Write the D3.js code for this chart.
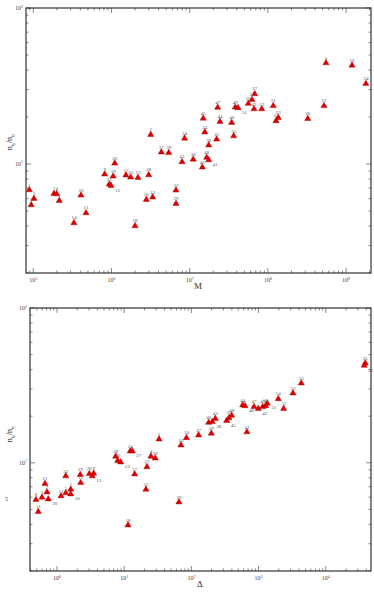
<!DOCTYPE html>
<html>
<head>
<meta charset="utf-8">
<script src="https://cdn.jsdelivr.net/npm/d3@7"></script>
<style>
  body { margin: 0; background: #fff; }
  svg { display: block; font-family: "Liberation Serif", "DejaVu Serif", serif; }
</style>
</head>
<body>
<svg id="chart" width="374" height="597"></svg>
<script>
// top panel : ratio vs M
const topIds = [1, 5, 3, 7, 4, 8, 14, 10, 11, 9, 21, 15, 19, 20, 17, 23, 18, 13, 30, 28,
  2, 12, 37, 39, 32, 29, 43, 34, 36, 40, 24, 45, 38, 48, 41, 25, 47, 44, 46, 35,
  49, 51, 50, 52, 27, 42, 53, 31, 55, 33, 26, 22, 6, 16, 54];
const topM = [8.9e4, 9.4e4, 1.02e5, 1.84e5, 1.99e5, 2.15e5, 3.31e5, 4.07e5, 4.72e5, 8.18e5,
  9.37e5, 9.86e5, 1.05e6, 1.10e6, 1.53e6, 1.76e6, 2.0e6, 2.18e6, 2.79e6, 2.99e6,
  3.17e6, 3.36e6, 4.34e6, 5.39e6, 6.68e6, 6.68e6, 7.98e6, 8.59e6, 1.11e7, 1.45e7,
  1.56e7, 1.49e7, 1.75e7, 1.65e7, 1.75e7, 2.21e7, 2.28e7, 2.44e7, 3.44e7, 3.65e7,
  3.83e7, 4.15e7, 5.61e7, 6.26e7, 6.78e7, 6.64e7, 8.33e7, 1.17e8, 1.27e8, 1.36e8,
  3.23e8, 5.22e8, 5.53e8, 1.19e9, 1.79e9];
const topRatio = [6.81, 5.46, 6.0, 6.46, 6.43, 5.82, 4.19, 6.30, 4.85, 8.59,
  7.41, 7.26, 8.34, 10.1, 8.47, 8.22, 4.01, 8.17, 5.90, 8.50,
  15.4, 6.12, 11.9, 11.8, 6.78, 5.57, 10.3, 14.6, 10.7, 9.52,
  16.0, 19.6, 13.2, 11.0, 10.6, 14.4, 23.0, 18.7, 18.4, 15.1,
  23.1, 22.9, 24.4, 25.8, 28.1, 22.5, 22.5, 23.6, 18.9, 19.8,
  19.5, 23.6, 44.4, 42.9, 32.7];
// labels drawn below-right of the marker instead of above
const topBelow = [15, 41, 51];

// bottom panel : ratio vs Delta
const botIds = [8, 11, 3, 21, 7, 30, 12, 5, 33, 1, 10, 19, 15, 26, 9, 13, 28, 20, 23, 18,
  24, 27, 17, 32, 22, 4, 36, 2, 29, 16, 34, 37, 39, 40, 38, 43, 45, 35, 48, 41,
  44, 46, 47, 42, 49, 50, 51, 52, 54, 53, 55, 31, 25];
const botDelta = [0.487, 0.527, 0.598, 0.663, 0.710, 0.742, 1.15, 1.35, 1.35, 1.60,
  1.60, 2.22, 2.25, 3.03, 3.52, 3.35, 7.47, 8.0, 8.87, 11.4,
  12.3, 13.2, 14.3, 21.1, 21.8, 25.0, 29.0, 33.0, 65.3, 70.0,
  84.5, 128, 198, 181, 205, 227, 335, 363, 398, 671,
  579, 628, 855, 991, 1150, 1276, 1347, 2364, 1963, 3250,
  4318, 38700, 37400];
const botRatio = [5.77, 4.83, 5.98, 7.33, 6.47, 5.83, 6.10, 6.38, 8.21, 6.73,
  6.28, 8.37, 7.43, 8.49, 8.54, 8.21, 11.0, 10.3, 10.1, 3.96,
  11.9, 11.9, 8.45, 6.73, 9.42, 11.0, 10.7, 14.2, 5.57, 13.0,
  14.5, 15.1, 15.5, 18.2, 18.4, 19.3, 18.7, 19.5, 20.2, 15.8,
  23.6, 23.3, 23.0, 22.4, 23.0, 23.3, 24.2, 22.4, 25.9, 28.2,
  32.7, 44.0, 42.5];
const botBelow = [30, 10, 13, 27, 23, 38, 45, 46, 42, 51, 25];

const svg = d3.select("#chart");

function supLabel(sel, exp) {
  sel.append("tspan").text("10");
  sel.append("tspan").attr("dy", -2.5).style("font-size", "4px").text(exp);
}

function panel(o) {
  const x = d3.scaleLog().domain(o.xDomain).range([o.left, o.right]);
  const y = d3.scaleLog().domain([2, 100]).range([o.bottom, o.top]);
  const g = svg.append("g");

  // ticks on the four sides, pointing inward
  const isMajor = v => Math.abs(Math.log10(v) - Math.round(Math.log10(v))) < 1e-9;
  const xt = x.ticks(), yt = y.ticks();
  xt.forEach(v => {
    const len = isMajor(v) ? 5 : 2.5;
    g.append("line").attr("x1", x(v)).attr("x2", x(v)).attr("y1", o.bottom).attr("y2", o.bottom - len);
    g.append("line").attr("x1", x(v)).attr("x2", x(v)).attr("y1", o.top).attr("y2", o.top + len);
  });
  yt.forEach(v => {
    const len = isMajor(v) ? 5 : 2.5;
    g.append("line").attr("y1", y(v)).attr("y2", y(v)).attr("x1", o.left).attr("x2", o.left + len);
    g.append("line").attr("y1", y(v)).attr("y2", y(v)).attr("x1", o.right).attr("x2", o.right - len);
  });
  g.selectAll("line").attr("stroke", "#555").attr("stroke-width", 0.7);

  g.append("rect")
    .attr("x", o.left).attr("y", o.top)
    .attr("width", o.right - o.left).attr("height", o.bottom - o.top)
    .attr("fill", "none").attr("stroke", "#333").attr("stroke-width", 1.2);

  // tick labels
  xt.filter(isMajor).forEach(v => {
    g.append("text").attr("x", x(v)).attr("y", o.bottom + 9)
      .attr("text-anchor", "middle").style("font-size", "6px").attr("fill", "#444")
      .call(supLabel, Math.round(Math.log10(v)));
  });
  yt.filter(isMajor).forEach(v => {
    g.append("text").attr("x", o.left - 3).attr("y", y(v) + 2)
      .attr("text-anchor", "end").style("font-size", "6px").attr("fill", "#444")
      .call(supLabel, Math.round(Math.log10(v)));
  });

  // axis titles
  g.append("text").attr("x", o.titleX).attr("y", o.bottom + 16)
    .attr("text-anchor", "middle").style("font-size", "9px").attr("fill", "#333")
    .text(o.xTitle);
  const yl = g.append("text")
    .attr("transform", `translate(12,${o.yTitleY}) rotate(-90)`)
    .attr("text-anchor", "middle").style("font-size", "8px").attr("fill", "#333");
  yl.append("tspan").text("n");
  yl.append("tspan").attr("dy", 2).style("font-size", "5px").text("t");
  yl.append("tspan").attr("dy", 1).style("font-size", "3.5px").text("k");
  yl.append("tspan").attr("dy", -3).text("/n");
  yl.append("tspan").attr("dy", 2).style("font-size", "5px").text("t");
  yl.append("tspan").attr("dy", 1).style("font-size", "3.5px").text("0");

  // points
  const pts = o.ids.map((id, i) => ({ id, xv: o.xs[i], yv: o.ys[i] }));
  const tri = d3.symbol(d3.symbolTriangle).size(17);
  g.selectAll("path.pt").data(pts).enter().append("path")
    .attr("class", "pt")
    .attr("d", tri)
    .attr("transform", d => `translate(${x(d.xv)},${y(d.yv)})`)
    .attr("fill", "#e00000").attr("stroke", "#a00000").attr("stroke-width", 0.4);

  g.selectAll("text.lab").data(pts).enter().append("text")
    .attr("class", "lab")
    .attr("x", d => x(d.xv) + (o.below.includes(d.id) ? 4 : 0))
    .attr("y", d => y(d.yv) + (o.below.includes(d.id) ? 6 : -3.5))
    .attr("text-anchor", d => o.below.includes(d.id) ? "start" : "middle")
    .style("font-size", "5px").attr("fill", "#555")
    .text(d => d.id);
  return g;
}

panel({
  left: 26, right: 371, top: 8, bottom: 273,
  xDomain: [8.07e4, 2.08e9],
  ids: topIds, xs: topM, ys: topRatio, below: topBelow,
  xTitle: "M", titleX: 198, yTitleY: 142
});

const bottomPanel = panel({
  left: 30, right: 371, top: 308, bottom: 571,
  xDomain: [0.3966, 4.71e4],
  ids: botIds, xs: botDelta, ys: botRatio, below: botBelow,
  xTitle: "Δ", titleX: 200, yTitleY: 434
});

bottomPanel.append("text").attr("x", 5).attr("y", 501)
  .style("font-size", "6px").attr("fill", "#444").text("5");
</script>
</body>
</html>
